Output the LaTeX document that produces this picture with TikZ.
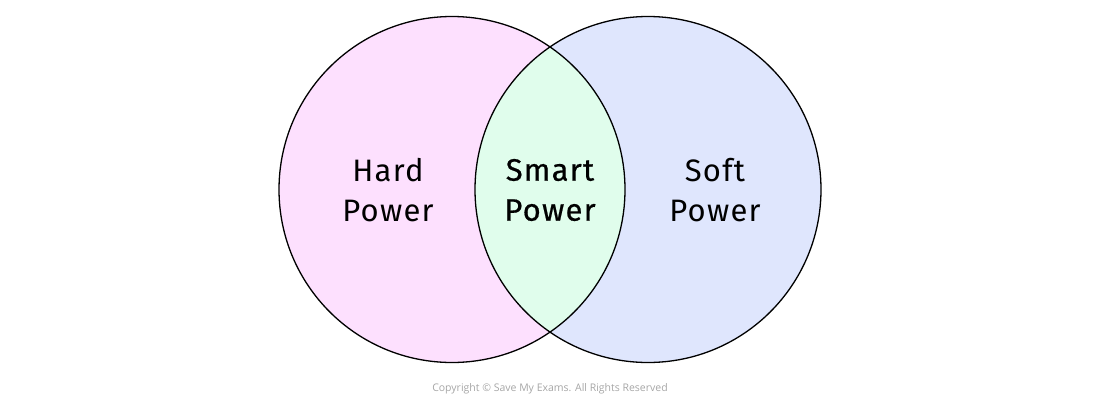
\documentclass[tikz,border=0pt]{standalone}
\usepackage{fontspec}
\setmainfont{Fira Sans}[LetterSpace=4]
\newfontfamily\copyfont{Open Sans}
\usetikzlibrary{positioning}

\definecolor{hardpink}{HTML}{FDE0FE}
\definecolor{softblue}{HTML}{DFE6FD}
\definecolor{smartgreen}{HTML}{E0FDEC}
\definecolor{copygray}{HTML}{A6A6A6}

\begin{document}
\begin{tikzpicture}[%
    x=1pt, y=1pt,
    set/.style={circle, minimum size=346pt, inner sep=0pt},
    ring/.style={draw=black, line width=1.3pt},
    settext/.style={align=center, font=\fontsize{31}{40}\selectfont}
  ]
  \useasboundingbox (0,0) rectangle (1100,-402);

  % the two sets
  \node[set, fill=hardpink] (hard) at (452,-189.5) {};
  \node[set, fill=softblue] (soft) at (648,-189.5) {};

  % overlap
  \begin{scope}
    \clip (hard.center) circle (173);
    \fill[smartgreen] (soft.center) circle (173);
  \end{scope}

  \draw[ring] (hard.center) circle (173);
  \draw[ring] (soft.center) circle (173);

  \node[settext] (hardtxt)  at (388,-190) {Hard\\Power};
  \node[settext] (smarttxt) at (550,-190) {\addfontfeatures{FakeBold=0.6}Smart\\\addfontfeatures{FakeBold=0.6}Power};
  \node[settext] (softtxt)  at (715,-190) {Soft\\Power};

  \node[font=\copyfont\fontsize{10.5}{12}\selectfont, text=copygray] (copy) at (550,-389)
    {Copyright © Save My Exams. All Rights Reserved};
\end{tikzpicture}
\end{document}
